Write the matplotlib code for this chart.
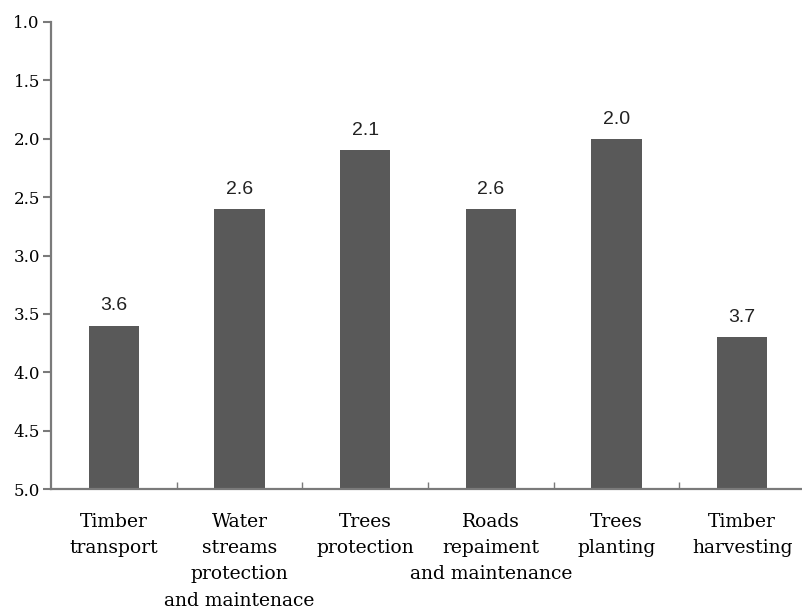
import numpy as np
import matplotlib
matplotlib.use("Agg")
from matplotlib import pyplot as plt

categories = ["Timber\ntransport",
              "Water\nstreams\nprotection\nand maintenace",
              "Trees\nprotection",
              "Roads\nrepaiment\nand maintenance",
              "Trees\nplanting",
              "Timber\nharvesting"]
values = [3.6, 2.6, 2.1, 2.6, 2.0, 3.7]
y_ticks = [1.0, 1.5, 2.0, 2.5, 3.0, 3.5, 4.0, 4.5, 5.0]
baseline = 5.0

fig = plt.figure(figsize=(8.03, 6.09), dpi=100)
ax = fig.add_axes([51/803, 1 - 489/609, 754/803, 467/609])

x = np.arange(len(categories))
# scale runs downward, so bars hang from the 5.0 baseline up to each score
ax.bar(x, np.array(values) - baseline, bottom=baseline, width=0.4, color="#595959")
for xi, v in zip(x, values):
    ax.annotate(f"{v:.1f}", (xi, v), xytext=(0, 8), textcoords="offset points",
                ha="center", va="bottom", fontsize=14, family="Liberation Sans",
                color="#222222")

ax.set_ylim(5.0, 1.0)
ax.set_xlim(-0.5, len(categories) - 0.5)
ax.set_yticks(y_ticks)
ax.set_yticklabels([f"{t:.1f}" for t in y_ticks], family="DejaVu Serif", fontsize=12)
ax.set_xticks(x)
ax.set_xticklabels(categories, family="DejaVu Serif", fontsize=13.5, linespacing=1.6,
                   va="top")
ax.set_xticks(x[:-1] + 0.5, minor=True)

ax.spines[["top", "right"]].set_visible(False)
for side in ["left", "bottom"]:
    ax.spines[side].set_color("#7a7a7a")
    ax.spines[side].set_linewidth(1.6)
ax.tick_params(axis="y", direction="out", length=6, width=1.5, color="#7a7a7a", pad=2)
ax.tick_params(axis="x", which="major", length=0, pad=17)
ax.tick_params(axis="x", which="minor", direction="in", length=5, width=1, color="#7a7a7a")

fig.savefig("out.png", dpi=100)
